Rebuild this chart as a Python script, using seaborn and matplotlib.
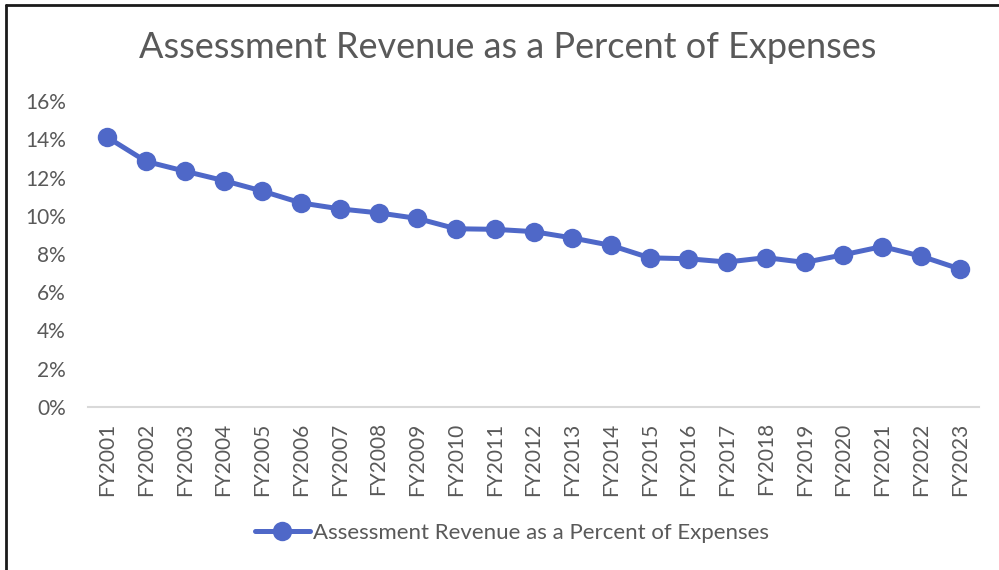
import matplotlib
matplotlib.use("Agg")
import matplotlib.pyplot as plt
from matplotlib.lines import Line2D
from matplotlib.ticker import FuncFormatter, MultipleLocator
import pandas as pd
import seaborn as sns

# data (percent)
years = ["FY2001", "FY2002", "FY2003", "FY2004", "FY2005", "FY2006", "FY2007",
         "FY2008", "FY2009", "FY2010", "FY2011", "FY2012", "FY2013", "FY2014",
         "FY2015", "FY2016", "FY2017", "FY2018", "FY2019", "FY2020", "FY2021",
         "FY2022", "FY2023"]
pct = [14.1, 12.84, 12.33, 11.84, 11.29, 10.67, 10.36, 10.15, 9.86, 9.32, 9.29,
       9.17, 8.84, 8.45, 7.80, 7.75, 7.58, 7.81, 7.56, 7.96, 8.39, 7.89, 7.22]
series_name = "Assessment Revenue as a Percent of Expenses"

df = pd.DataFrame({"year": years, "pct": pct})

sns.set_theme(style="white")
plt.rcParams["font.family"] = ["Lato", "DejaVu Sans"]

text_col = "#595959"
line_col = "#4F68C8"

fig = plt.figure(figsize=(9.99, 5.70), dpi=100)
ax = fig.add_axes([88 / 999, 1 - 407 / 570, (979 - 88) / 999, (407 - 101) / 570])

sns.lineplot(data=df, x="year", y="pct", ax=ax, color=line_col, linewidth=3.6,
             marker="o", markersize=14, markeredgewidth=0, sort=False,
             label=series_name, legend=False)

ax.set_xlim(-0.5, len(years) - 0.5)
ax.set_ylim(0, 16)
ax.yaxis.set_major_locator(MultipleLocator(2))
ax.yaxis.set_major_formatter(FuncFormatter(lambda v, p: f"{v:.0f}%"))
ax.set_xlabel("")
ax.set_ylabel("")

for s in ["top", "right", "left"]:
    ax.spines[s].set_visible(False)
ax.spines["bottom"].set_color("#D9D9D9")
ax.spines["bottom"].set_linewidth(1.5)

ax.tick_params(axis="y", length=0, labelsize=15, labelcolor=text_col, pad=16)
ax.tick_params(axis="x", length=0, labelsize=15, labelcolor=text_col, pad=11,
               labelrotation=90)

fig.text(508 / 999, 1 - 48 / 570, series_name, ha="center", va="center",
         fontsize=26, color=text_col)

handles, labels = ax.get_legend_handles_labels()
fig.legend(handles, labels, loc="center", bbox_to_anchor=(512 / 999, 1 - 533 / 570),
           frameon=False, fontsize=16, labelcolor=text_col, handlelength=2.5,
           handletextpad=0.15)

# chart frame (top and left edges visible in the reference)
fig.add_artist(Line2D([6 / 999, 1], [1 - 5 / 570, 1 - 5 / 570],
                      transform=fig.transFigure, color="#1a1a1a", linewidth=2))
fig.add_artist(Line2D([6 / 999, 6 / 999], [0, 1 - 5 / 570],
                      transform=fig.transFigure, color="#1a1a1a", linewidth=2))

fig.savefig("out.png", dpi=100)
